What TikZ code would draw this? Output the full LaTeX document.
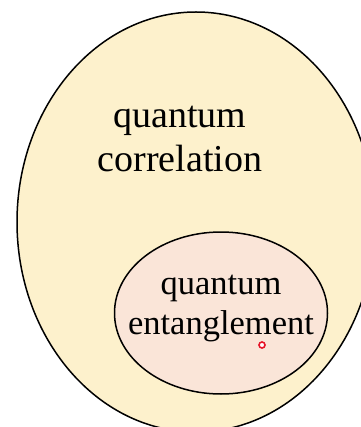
\documentclass[tikz,border=0pt]{standalone}
\usepackage{fontspec}
\setmainfont{Liberation Serif}
\usepackage{xcolor}
\usetikzlibrary{shapes.geometric}
\definecolor{Cream}{RGB}{253, 241, 204}
\definecolor{Blush}{RGB}{250, 229, 216}
\definecolor{Pointer}{RGB}{230, 20, 40}

\begin{document}
\begin{tikzpicture}[
    x=1pt, y=-1pt,
    setbox/.style={ellipse, draw=black, line width=1.5pt, inner sep=0pt}
]
    \useasboundingbox (0, 0) rectangle (360, 427);

    % Outer set
    \node[setbox, fill=Cream, minimum width=358pt, minimum height=420pt] (corr) at (196, 222) {};
    % Inner set
    \node[setbox, fill=Blush, minimum width=213pt, minimum height=162pt] (ent) at (221, 313) {};

    % Labels
    \node[font=\fontsize{38}{44}\selectfont, align=center] (corrtext) at (180, 139) {quantum\\correlation};
    \node[font=\fontsize{34.5}{40}\selectfont, align=center] (enttext) at (221, 309) {quantum\\entanglement};

    % Pointer mark
    \node[circle, draw=Pointer, line width=1.6pt, fill=white, inner sep=0pt, minimum size=6pt] (dot) at (262, 345) {};
\end{tikzpicture}
\end{document}
